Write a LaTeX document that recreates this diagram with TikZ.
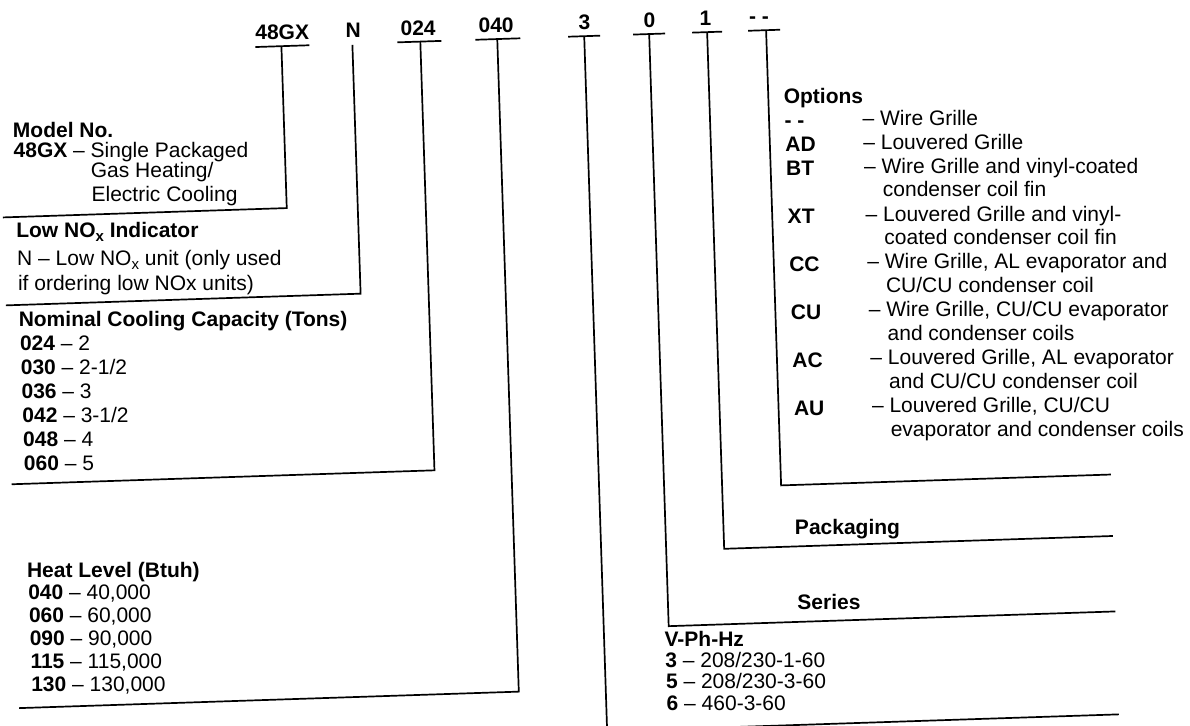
\documentclass[tikz,border=0pt]{standalone}
\usepackage{fontspec}
\setmainfont{Liberation Sans}
\newcommand{\sbx}{\raisebox{-4pt}{\fontsize{15}{15}\selectfont x}}
\tikzset{
  conn/.style={line width=1.7pt, line cap=butt, line join=miter},
  code/.style={anchor=base, font=\fontsize{21}{24}\selectfont\bfseries},
  txt/.style={anchor=base west, font=\fontsize{21}{24}\selectfont},
  hd/.style={anchor=base west, font=\fontsize{21}{24}\selectfont\bfseries},
}
\begin{document}
\begin{tikzpicture}[x=1pt,y=-1pt]
\useasboundingbox (0,0) rectangle (1190,725);
\fill[white] (0,0) rectangle (1190,725);
\clip (0,0) rectangle (1190,725);
\begin{scope}[rotate around={1.89:(595,362)},
  every node/.append style={inner sep=0pt, text height=15.5pt, text depth=4.2pt}]
% ---------- top code letters ----------
\node[code] (k48)  at (293,29.5)   {48GX};
\node[code] (kN)   at (364,29.5)   {N};
\node[code] (k024) at (429,29.5)   {024};
\node[code] (k040) at (507,29.5)   {040};
\node[code] (k3)   at (595.5,29.5) {3};
\node[code] (k0)   at (660.5,29.5) {0};
\node[code] (k1)   at (716.5,29.5) {1};
\node[code] (kdd)  at (770,29.5)   {- -};
% underlines
\coordinate (u48l) at (266,36);  \coordinate (u48r) at (320,36);
\coordinate (u24l) at (408,36);  \coordinate (u24r) at (452,36);
\coordinate (u40l) at (486,36);  \coordinate (u40r) at (531,36);
\coordinate (u3l)  at (579,36);  \coordinate (u3r)  at (611,36);
\coordinate (u0l)  at (644,36);  \coordinate (u0r)  at (676,36);
\coordinate (u1l)  at (703,36);  \coordinate (u1r)  at (733,36);
\coordinate (uddl) at (759,36);  \coordinate (uddr) at (791,36);
\foreach \a/\b in {u48l/u48r,u24l/u24r,u40l/u40r,u3l/u3r,u0l/u0r,u1l/u1r,uddl/uddr}
  \draw[conn] (\a) -- (\b);
% leader lines
\coordinate (t48) at (292,36);  \coordinate (c48) at (292,198);   \coordinate (e48) at (8,198);
\coordinate (tN)  at (363,37);  \coordinate (cN)  at (363,286);   \coordinate (eN)  at (8,286);
\coordinate (t24) at (431,36);  \coordinate (c24) at (431,465);   \coordinate (e24) at (8,465);
\coordinate (t40) at (508,36);  \coordinate (c40) at (508,689);   \coordinate (e40) at (8,689);
\coordinate (t3)  at (595,36);  \coordinate (c3)  at (595,731.5); \coordinate (e3)  at (1107,731.5);
\coordinate (t0)  at (660,36);  \coordinate (c0)  at (660,628.5); \coordinate (e0)  at (1107,628.5);
\coordinate (t1)  at (718,36);  \coordinate (c1)  at (718,553);   \coordinate (e1)  at (1107,553);
\coordinate (tdd) at (777,36);  \coordinate (cdd) at (777,491.5); \coordinate (edd) at (1107,491.5);
\foreach \p in {48,N,24,40,3,0,1,dd}
  \draw[conn] (t\p) -- (c\p) -- (e\p);
% ---------- Model No. ----------
\node[hd]  (mtitle) at (20.5,118)   {Model No.};
\node[txt] (m1)     at (20.5,138)   {\textbf{48GX} – Single Packaged};
\node[txt] (m2)     at (97,160.5)   {Gas Heating/};
\node[txt] (m3)     at (97,184.5)   {Electric Cooling};
% ---------- Low NOx ----------
\node[hd]  (ltitle) at (20.5,218) {Low NO\sbx{} Indicator};
\node[txt] (l1)     at (20.5,246) {N – Low NO\sbx{} unit (only used};
\node[txt] (l2)     at (20.5,272) {if ordering low NOx units)};
% ---------- Nominal cooling ----------
\node[hd]  (ntitle) at (20,308)   {Nominal Cooling Capacity (Tons)};
\node[txt] (n1) at (20.5,332) {\textbf{024} – 2};
\node[txt] (n2) at (20.5,356) {\textbf{030} – 2-1/2};
\node[txt] (n3) at (20.5,380) {\textbf{036} – 3};
\node[txt] (n4) at (20.5,404) {\textbf{042} – 3-1/2};
\node[txt] (n5) at (20.5,428) {\textbf{048} – 4};
\node[txt] (n6) at (20.5,452) {\textbf{060} – 5};
% ---------- Heat level ----------
\node[hd]  (htitle) at (20,559) {Heat Level (Btuh)};
\node[txt] (h1) at (20.5,581) {\textbf{040} – 40,000};
\node[txt] (h2) at (20.5,604) {\textbf{060} – 60,000};
\node[txt] (h3) at (20.5,627) {\textbf{090} – 90,000};
\node[txt] (h4) at (20.5,650) {\textbf{115} – 115,000};
\node[txt] (h5) at (20.5,673) {\textbf{130} – 130,000};
% ---------- V-Ph-Hz ----------
\node[hd]  (vtitle) at (655,648.5) {V-Ph-Hz};
\node[txt] (v1) at (655,670)   {\textbf{3} – 208/230-1-60};
\node[txt] (v2) at (655,691)   {\textbf{5} – 208/230-3-60};
\node[txt] (v3) at (655,712.5) {\textbf{6} – 460-3-60};
% ---------- Series / Packaging ----------
\node[hd] (series) at (789,616) {Series};
\node[hd] (pack)   at (789,541) {Packaging};
% ---------- Options ----------
\node[hd] (otitle) at (792,110) {Options};
\node[hd]  (o1c) at (792,134) {- -};
\node[txt] (o1d) at (870,134) {– Wire Grille};
\node[hd]  (o2c) at (792,158) {AD};
\node[txt] (o2d) at (870,158) {– Louvered Grille};
\node[hd]  (o3c) at (792,182) {BT};
\node[txt] (o3d) at (870,182) {– Wire Grille and vinyl-coated};
\node[txt] (o3e) at (888,206) {condenser coil fin};
\node[hd]  (o4c) at (792,230) {XT};
\node[txt] (o4d) at (870,230) {– Louvered Grille and vinyl-};
\node[txt] (o4e) at (888,254) {coated condenser coil fin};
\node[hd]  (o5c) at (792,278) {CC};
\node[txt] (o5d) at (870,278) {– Wire Grille, AL evaporator and};
\node[txt] (o5e) at (888,302) {CU/CU condenser coil};
\node[hd]  (o6c) at (792,326) {CU};
\node[txt] (o6d) at (870,326) {– Wire Grille, CU/CU evaporator};
\node[txt] (o6e) at (888,350) {and condenser coils};
\node[hd]  (o7c) at (792,374) {AC};
\node[txt] (o7d) at (870,374) {– Louvered Grille, AL evaporator};
\node[txt] (o7e) at (888,398) {and CU/CU condenser coil};
\node[hd]  (o8c) at (792,422) {AU};
\node[txt] (o8d) at (870,422) {– Louvered Grille, CU/CU};
\node[txt] (o8e) at (888,446) {evaporator and condenser coils};
\end{scope}
\end{tikzpicture}
\end{document}
